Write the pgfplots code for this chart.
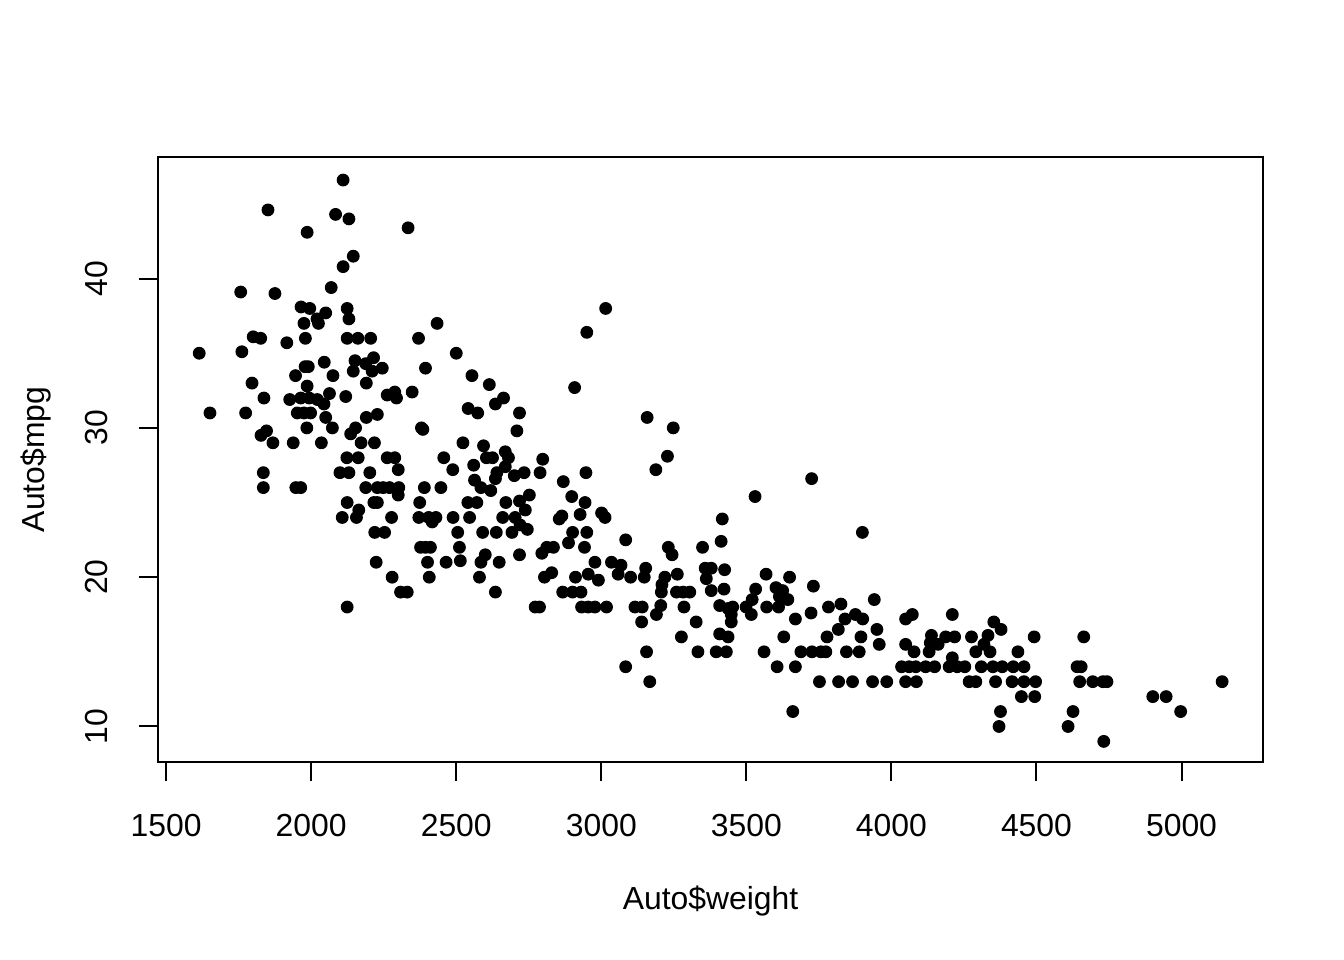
\documentclass[border=0pt]{standalone}
\usepackage{pgfplots}
\pgfplotsset{compat=1.18}
\usepackage{fontspec}
\setmainfont{Liberation Sans}
\begin{document}
\begin{tikzpicture}
\path[use as bounding box] (0,0) rectangle (504bp,360bp);
\begin{axis}[
  at={(59.25bp,74.25bp)}, anchor=south west,
  scale only axis, width=414.4bp, height=226.9bp,
  xmin=1471.9, xmax=5281.1, ymin=7.62, ymax=48.15,
  axis line style={line width=0.75bp, black},
  tick style={line width=0.75bp, black},
  tick pos=left, tick align=outside, major tick length=7.2bp,
  xtick={1500,2000,2500,3000,3500,4000,4500,5000},
  ytick={10,20,30,40},
  /pgf/number format/assume math mode=true,
  /pgf/number format/set thousands separator={},
  font=\fontsize{12}{14}\selectfont,
  xticklabel style={anchor=center, yshift=-24bp+7.2bp},
  yticklabel style={anchor=center, xshift=-22.9bp+7.2bp, rotate=90},
  xlabel={Auto\$weight}, ylabel={Auto\$mpg},
  xlabel style={at={(axis description cs:0.5,-0.2298)}, anchor=center},
  ylabel style={at={(axis description cs:-0.1104,0.5)}, anchor=center, rotate=0},
  clip=false,
]
\addplot[only marks, mark=*, mark size=2.2bp, mark options={draw=none, fill=black}] table {
w m
1851 44.6
1986 43.1
1757 39.1
1875 39.0
1965 38.1
1995 38.0
1975 37.0
1800 36.1
1826 36.0
1916 35.7
1980 36.0
1614 35.0
1761 35.1
1979 34.1
1990 34.1
1946 33.5
1796 33.0
1986 32.8
1837 32.0
1926 31.9
1964 32.0
1993 32.0
1651 31.0
1774 31.0
1952 31.0
1975 31.0
1998 31.0
1985 30.0
1827 29.5
1846 29.8
1868 29.0
1938 29.0
1835 27.0
1835 26.0
1947 26.0
1964 26.0
2110 46.6
2084 44.3
2130 44.0
2334 43.4
2145 41.5
2110 40.8
2069 39.4
2050 37.7
2020 37.3
2025 37.0
2124 38.0
2130 37.3
2434 37.0
2124 36.0
2161 36.0
2205 36.0
2370 36.0
2045 34.4
2151 34.5
2188 34.3
2215 34.7
2145 33.8
2210 33.8
2245 34.0
2394 34.0
2075 33.5
2190 33.0
2063 32.3
2119 32.1
2262 32.2
2288 32.4
2294 32.0
2348 32.4
2021 31.9
2044 31.6
2050 30.7
2190 30.7
2228 30.9
2073 30.0
2153 30.0
2136 29.6
2380 30.0
2385 29.9
2035 29.0
2172 29.0
2218 29.0
2123 28.0
2162 28.0
2262 28.0
2288 28.0
2457 28.0
2099 27.0
2130 27.0
2202 27.0
2300 27.2
2188 26.0
2228 26.0
2248 26.0
2270 26.0
2302 26.0
2300 25.5
2390 26.0
2447 26.0
2124 25.0
2216 25.0
2228 25.0
2374 25.0
2164 24.5
2107 24.0
2156 24.0
2277 24.0
2371 24.0
2405 24.0
2430 24.0
2417 23.7
2219 23.0
2253 23.0
2377 22.0
2394 22.0
2411 22.0
2224 21.0
2401 21.0
2465 21.0
2279 20.0
2407 20.0
2308 19.0
2331 19.0
2124 18.0
2950 36.4
2500 35.0
2554 33.5
2614 32.9
2663 32.0
2635 31.6
2908 32.7
2541 31.3
2574 31.0
2718 31.0
2709 29.8
2523 29.0
2594 28.8
2604 28.0
2625 28.0
2669 28.4
2680 28.0
2798 27.9
2560 27.5
2669 27.4
2488 27.2
2640 27.0
2635 26.6
2700 26.8
2734 27.0
2789 27.0
2947 27.0
2563 26.5
2585 26.0
2619 25.8
2869 26.4
2752 25.5
2718 25.1
2738 24.5
2898 25.4
2944 25.0
2540 25.0
2571 25.0
2671 25.0
2489 24.0
2546 24.0
2660 24.0
2703 24.0
2864 24.1
2927 24.2
2720 23.5
2745 23.2
2855 23.9
2505 23.0
2591 23.0
2638 23.0
2692 23.0
2901 23.0
2950 23.0
2511 22.0
2887 22.3
2942 22.0
2600 21.5
2585 21.0
2718 21.5
2795 21.6
2812 22.0
2835 22.0
2514 21.1
2648 21.0
2580 20.0
2804 20.0
2829 20.3
2911 20.0
2955 20.2
2635 19.0
2867 19.0
2901 19.0
2930 19.0
2772 18.0
2787 18.0
2932 18.0
2955 18.0
3015 38.0
3158 30.7
3248 30.0
3228 28.1
3188 27.2
3001 24.3
3013 24.0
3417 23.9
3084 22.5
3413 22.4
3231 22.0
3244 21.5
3349 22.0
2978 21.0
3035 21.0
3068 20.8
2990 19.8
3058 20.2
3101 20.0
3153 20.6
3148 20.0
3219 20.0
3209 19.5
3207 19.0
3262 20.2
3358 20.6
3379 20.6
3425 20.5
3362 19.9
3259 19.0
3282 19.0
3305 19.0
3379 19.1
3423 19.2
2978 18.0
3018 18.0
3116 18.0
3141 18.0
3205 18.1
3190 17.5
3285 18.0
3408 18.1
3437 17.9
3448 17.5
3139 17.0
3327 17.0
3276 16.0
3408 16.2
3437 16.0
3156 15.0
3333 15.0
3396 15.0
3431 15.0
3084 14.0
3167 13.0
3725 26.6
3530 25.4
3900 23.0
3568 20.2
3649 20.0
3532 19.2
3602 19.3
3625 19.1
3643 18.5
3614 18.7
3731 19.4
3520 18.5
3499 18.0
3453 18.0
3570 18.0
3611 18.0
3517 17.5
3723 17.6
3783 18.0
3826 18.2
3941 18.5
3876 17.5
3901 17.2
3669 17.2
3840 17.2
4072 17.5
4049 17.2
3448 17.0
3817 16.5
3950 16.5
3629 16.0
3778 16.0
3895 16.0
3958 15.5
4049 15.5
4078 15.0
3561 15.0
3688 15.0
3726 15.0
3757 15.0
3774 15.0
3845 15.0
3889 15.0
3606 14.0
3669 14.0
4035 14.0
4061 14.0
4084 14.0
3752 13.0
3818 13.0
3866 13.0
3935 13.0
3984 13.0
4049 13.0
4086 13.0
3660 11.0
4210 17.5
4353 17.0
4378 16.5
4138 16.1
4187 16.0
4218 16.0
4276 16.0
4333 16.1
4492 16.0
4134 15.6
4161 15.5
4130 15.0
4319 15.5
4340 15.0
4291 15.0
4436 15.0
4210 14.6
4118 14.0
4149 14.0
4199 14.0
4227 14.0
4253 14.0
4310 14.0
4350 14.0
4382 14.0
4420 14.0
4457 14.0
4268 13.0
4291 13.0
4359 13.0
4416 13.0
4457 13.0
4497 13.0
4448 12.0
4494 12.0
4376 11.0
4626 11.0
4371 10.0
4609 10.0
4663 16.0
4640 14.0
4654 14.0
4649 13.0
4694 13.0
4729 13.0
4743 13.0
5140 13.0
4901 12.0
4947 12.0
4997 11.0
4732 9.0
};
\end{axis}
\end{tikzpicture}
\end{document}
